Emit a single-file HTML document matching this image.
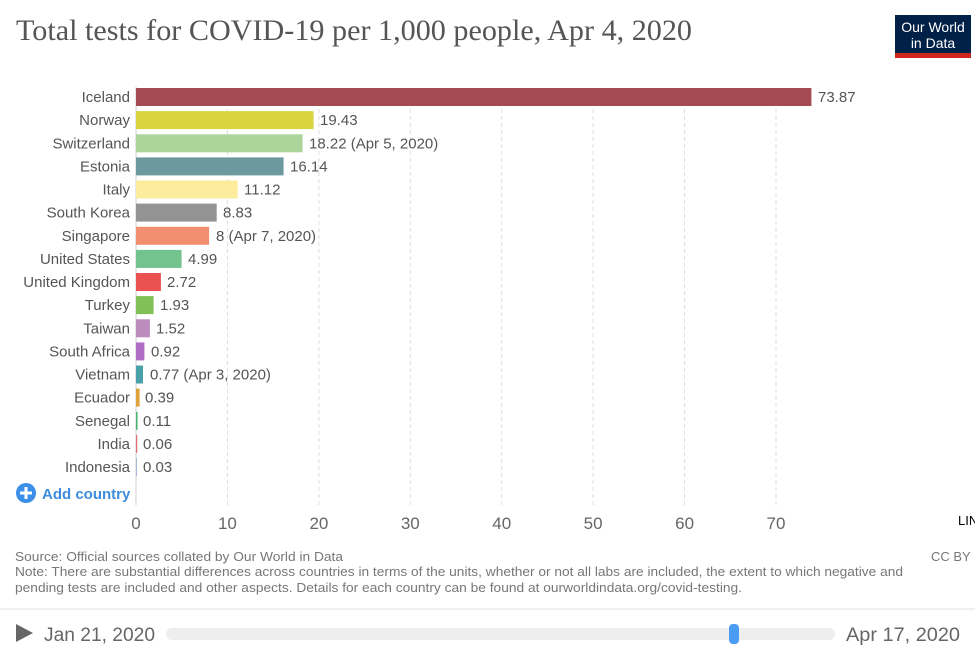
<!DOCTYPE html>
<html><head><meta charset="utf-8"><style>
html,body{margin:0;padding:0;background:#fff;width:975px;height:650px;overflow:hidden}
svg{display:block}
text{font-family:"Liberation Sans",sans-serif}
</style></head><body>
<svg width="975" height="650" viewBox="0 0 975 650" xmlns="http://www.w3.org/2000/svg">
<text x="16" y="40" font-family="Liberation Serif, serif" font-size="30" fill="#555" textLength="676" lengthAdjust="spacingAndGlyphs" style="font-family:'Liberation Serif',serif">Total tests for COVID-19 per 1,000 people, Apr 4, 2020</text>
<rect x="895" y="15" width="76" height="38" fill="#002147"/>
<rect x="895" y="53" width="76" height="5" fill="#ce261e"/>
<text x="933" y="32" font-size="14" fill="#fff" text-anchor="middle">Our World</text>
<text x="933" y="48" font-size="14" fill="#fff" text-anchor="middle">in Data</text>
<g stroke="#ddd" stroke-width="1" stroke-dasharray="4,3">
<line x1="227.4" y1="88" x2="227.4" y2="505"/>
<line x1="318.9" y1="88" x2="318.9" y2="505"/>
<line x1="410.3" y1="88" x2="410.3" y2="505"/>
<line x1="501.7" y1="88" x2="501.7" y2="505"/>
<line x1="593.1" y1="88" x2="593.1" y2="505"/>
<line x1="684.6" y1="88" x2="684.6" y2="505"/>
<line x1="776" y1="88" x2="776" y2="505"/>
</g>
<line x1="136" y1="87" x2="136" y2="505" stroke="#ccc" stroke-width="1"/>
<g font-size="15" fill="#555">
<rect x="136" y="88" width="675.4" height="18" fill="#a34a52"/>
<text x="130" y="102" text-anchor="end">Iceland</text><text x="818" y="102">73.87</text>
<rect x="136" y="111.1" width="177.6" height="18" fill="#d8d53f"/>
<text x="130" y="125.1" text-anchor="end">Norway</text><text x="320" y="125.1">19.43</text>
<rect x="136" y="134.3" width="166.6" height="18" fill="#acd59b"/>
<text x="130" y="148.3" text-anchor="end">Switzerland</text><text x="309" y="148.3">18.22 (Apr 5, 2020)</text>
<rect x="136" y="157.4" width="147.6" height="18" fill="#6d999e"/>
<text x="130" y="171.4" text-anchor="end">Estonia</text><text x="290" y="171.4">16.14</text>
<rect x="136" y="180.5" width="101.7" height="18" fill="#fcec9c"/>
<text x="130" y="194.5" text-anchor="end">Italy</text><text x="244" y="194.5">11.12</text>
<rect x="136" y="203.6" width="80.7" height="18" fill="#939393"/>
<text x="130" y="217.6" text-anchor="end">South Korea</text><text x="223" y="217.6">8.83</text>
<rect x="136" y="226.8" width="73.1" height="18" fill="#f38f71"/>
<text x="130" y="240.8" text-anchor="end">Singapore</text><text x="216" y="240.8">8 (Apr 7, 2020)</text>
<rect x="136" y="249.9" width="45.6" height="18" fill="#73c38f"/>
<text x="130" y="263.9" text-anchor="end">United States</text><text x="188" y="263.9">4.99</text>
<rect x="136" y="273" width="24.9" height="18" fill="#ea5151"/>
<text x="130" y="287" text-anchor="end">United Kingdom</text><text x="167" y="287">2.72</text>
<rect x="136" y="296.1" width="17.6" height="18" fill="#80c054"/>
<text x="130" y="310.1" text-anchor="end">Turkey</text><text x="160" y="310.1">1.93</text>
<rect x="136" y="319.3" width="13.9" height="18" fill="#bc8cbf"/>
<text x="130" y="333.3" text-anchor="end">Taiwan</text><text x="156" y="333.3">1.52</text>
<rect x="136" y="342.4" width="8.4" height="18" fill="#b06dc4"/>
<text x="130" y="356.4" text-anchor="end">South Africa</text><text x="151" y="356.4">0.92</text>
<rect x="136" y="365.5" width="7" height="18" fill="#4aa0a8"/>
<text x="130" y="379.5" text-anchor="end">Vietnam</text><text x="150" y="379.5">0.77 (Apr 3, 2020)</text>
<rect x="136" y="388.6" width="3.6" height="18" fill="#e2a23b"/>
<text x="130" y="402.6" text-anchor="end">Ecuador</text><text x="145" y="402.6">0.39</text>
<rect x="136" y="411.8" width="1.5" height="18" fill="#43b36e"/>
<text x="130" y="425.8" text-anchor="end">Senegal</text><text x="143" y="425.8">0.11</text>
<rect x="136" y="434.9" width="1.2" height="18" fill="#e36d74"/>
<text x="130" y="448.9" text-anchor="end">India</text><text x="143" y="448.9">0.06</text>
<rect x="136" y="458" width="1" height="18" fill="#a8b7d4"/>
<text x="130" y="472" text-anchor="end">Indonesia</text><text x="143" y="472">0.03</text>
</g>
<circle cx="26" cy="493" r="10" fill="#3b8fe8"/>
<rect x="20" y="491.5" width="12" height="3" fill="#fff"/>
<rect x="24.5" y="487" width="3" height="12" fill="#fff"/>
<text x="42" y="499" font-size="15" font-weight="bold" fill="#3d8ddc">Add country</text>
<g font-size="17" fill="#666" text-anchor="middle">
<text x="136" y="529">0</text><text x="227.4" y="529">10</text><text x="318.9" y="529">20</text><text x="410.3" y="529">30</text><text x="501.7" y="529">40</text><text x="593.1" y="529">50</text><text x="684.6" y="529">60</text><text x="776" y="529">70</text>
</g>
<text x="958" y="525" font-size="13" fill="#000">LINEAR</text>
<g font-size="13" fill="#777">
<text x="15" y="561" textLength="328" lengthAdjust="spacingAndGlyphs">Source: Official sources collated by Our World in Data</text>
<text x="931" y="561">CC BY</text>
<text x="15" y="576" textLength="888" lengthAdjust="spacingAndGlyphs">Note: There are substantial differences across countries in terms of the units, whether or not all labs are included, the extent to which negative and</text>
<text x="15" y="592" textLength="727" lengthAdjust="spacingAndGlyphs">pending tests are included and other aspects. Details for each country can be found at ourworldindata.org/covid-testing.</text>
</g>
<line x1="0" y1="609" x2="975" y2="609" stroke="#e2e2e2" stroke-width="1"/>
<polygon points="16,624 33,633 16,642" fill="#666"/>
<text x="44" y="641" font-size="19" fill="#666" textLength="111" lengthAdjust="spacingAndGlyphs">Jan 21, 2020</text>
<rect x="166" y="628" width="669" height="12" rx="6" fill="#eee"/>
<rect x="729" y="624" width="10" height="20" rx="4" fill="#4a9cf5"/>
<text x="846" y="641" font-size="19" fill="#666" textLength="114" lengthAdjust="spacingAndGlyphs">Apr 17, 2020</text>
</svg>
</body></html>
